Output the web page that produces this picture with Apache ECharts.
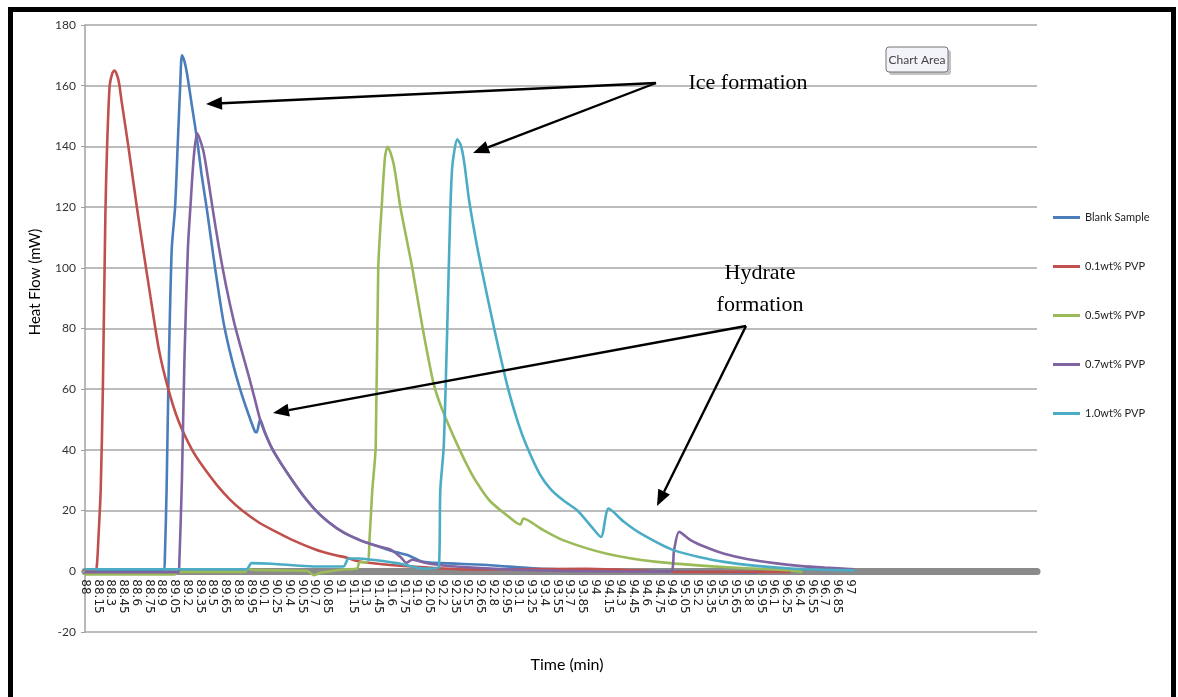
<!DOCTYPE html>
<html>
<head>
<meta charset="utf-8">
<script src="https://cdn.jsdelivr.net/npm/echarts@6.0.0/dist/echarts.min.js"></script>
<style>
  html, body { margin: 0; padding: 0; background: #fff; }
  #main { width: 1178px; height: 697px; }
</style>
</head>
<body>
<div id="main"></div>
<script>
// time axis (min): Excel category axis, one row per 0.05 min, labels every 0.15 up to 97
var timeStart = 88;
var timeStep = 0.05;
var lastLabel = 97;
var axisEnd = 99.2;
var yMin = -20, yMax = 180, yStep = 20;

var seriesNames = ['Blank Sample', '0.1wt% PVP', '0.5wt% PVP', '0.7wt% PVP', '1.0wt% PVP'];
var seriesColors = ['#4a7ebb', '#c0504d', '#9bbb59', '#8064a2', '#4bacc6'];

// Blank Sample
var blankT = [88, 88.93, 88.94, 88.96, 88.98, 89.02, 89.06, 89.09, 89.12, 89.14,
  89.17, 89.2, 89.26, 89.32, 89.37, 89.43, 89.48, 89.53, 89.63, 89.73,
  89.83, 89.92, 90.0, 90.02, 90.06, 90.12, 90.2, 90.3, 90.43, 90.56,
  90.7, 90.86, 91.04, 91.24, 91.44, 91.6, 91.8, 91.98, 92.4, 92.77,
  93.32, 94.0, 95.0, 95.91];
var blankV = [0.5, 0.5, 5, 27, 60, 106, 120, 140, 160, 170,
  168, 164, 153, 142, 131, 120, 110, 100, 82, 69.5,
  59.5, 52, 46, 45.8, 50, 45.5, 40.5, 35.8, 30.3, 25.2,
  20.5, 16.3, 12.8, 10.2, 8.3, 6.8, 5.3, 3.1, 2.5, 2,
  0.9, 0.4, 0, -0.5];

// 0.1wt% PVP
var pvp01T = [88, 88.12, 88.14, 88.16, 88.185, 88.21, 88.24, 88.26, 88.29, 88.32,
  88.345, 88.37, 88.4, 88.43, 88.51, 88.61, 88.69, 88.77, 88.87, 88.98,
  89.1, 89.26, 89.4, 89.55, 89.7, 89.85, 90.05, 90.25, 90.45, 90.71,
  90.9, 91.09, 91.2, 91.5, 92.0, 92.5, 93.0, 93.9, 94.5, 95.0,
  96.3];
var pvp01V = [0.3, 0.3, 2, 12, 27, 60, 118, 140, 160, 164,
  165, 164, 161, 155, 140, 120, 105, 90.5, 73, 60,
  49.5, 40, 34, 28.5, 23.8, 20, 16, 13, 10.2, 7.2,
  5.6, 4.4, 3.4, 2.3, 1.3, 0.6, 0.7, 0.8, 0.3, -0.2,
  -0.2];

// 0.5wt% PVP
var pvp05T = [88, 89.06, 89.08, 89.88, 89.92, 89.96, 90.3, 90.62, 90.69, 90.77,
  91.04, 91.2, 91.23, 91.32, 91.35, 91.38, 91.42, 91.45, 91.49, 91.53,
  91.56, 91.63, 91.71, 91.85, 91.97, 92.1, 92.2, 92.4, 92.55, 92.65,
  92.77, 92.97, 93.12, 93.16, 93.36, 93.63, 94.14, 94.73, 95.52, 96.3,
  96.44];
var pvp05V = [-1, -1, -0.2, -0.2, 0.9, 0.5, 0.3, 0.1, -1.3, -0.5,
  0.6, 0.9, 3, 3, 12, 26.7, 41, 100, 120, 136.6,
  139.9, 134.4, 120, 100, 80.5, 62, 53.5, 40.5, 32, 27.5,
  23, 18.3, 15.4, 17.4, 14.1, 10.2, 5.8, 3.1, 1.4, 0.3,
  -0.2];

// 0.7wt% PVP
var pvp07T = [88, 89.1, 89.11, 89.14, 89.17, 89.21, 89.24, 89.28, 89.32, 89.39,
  89.45, 89.51, 89.58, 89.66, 89.75, 89.83, 89.92, 90.0, 90.06, 90.12,
  90.2, 90.3, 90.43, 90.56, 90.7, 90.86, 91.04, 91.24, 91.44, 91.59,
  91.72, 91.78, 91.85, 92.0, 92.18, 92.77, 93.36, 93.95, 94.89, 94.93,
  94.99, 95.13, 95.3, 95.52, 95.8, 96.11, 96.4, 96.7, 97.05];
var pvp07V = [-0.3, -0.3, 3, 30, 70, 106, 120, 136.6, 144.3, 138.8,
  129, 118, 106, 94, 82.5, 74, 65, 56.5, 50, 45.5,
  40.5, 35.8, 30.3, 25.2, 20.5, 16.3, 12.8, 10.2, 8.3, 7.2,
  4.5, 2.8, 3.8, 2.8, 2, 0.9, 0.3, 0, -0.1, 6.9,
  13, 10.2, 8, 5.8, 4, 2.7, 1.8, 1.2, 0.7];

// 1.0wt% PVP
var pvp10T = [88, 89.9, 89.96, 90.2, 90.69, 91.04, 91.1, 91.2, 91.71, 91.98,
  92.16, 92.18, 92.22, 92.26, 92.29, 92.32, 92.38, 92.42, 92.46, 92.52,
  92.6, 92.67, 92.81, 92.97, 93.1, 93.2, 93.35, 93.48, 93.63, 93.79,
  93.95, 94.07, 94.16, 94.34, 94.54, 94.93, 95.52, 96.3, 97.05];
var pvp10V = [0.7, 0.7, 2.7, 2.5, 1.6, 1.6, 4.2, 4.2, 2.5, 0.9,
  1.2, 26.7, 41, 78.4, 111, 133, 142.3, 140.5, 135, 122,
  109, 99, 80.5, 61, 48.5, 41, 32, 27, 23.3, 20.1,
  15, 11.3, 20.7, 16.3, 12.4, 6.9, 3.1, 0.9, 0.3];

var seriesTimes = [blankT, pvp01T, pvp05T, pvp07T, pvp10T];
var seriesValues = [blankV, pvp01V, pvp05V, pvp07V, pvp10V];

// category labels along the time axis
var timeCats = [];
var nCats = Math.round((axisEnd - timeStart) / timeStep) + 1;
for (var i = 0; i < nCats; i++) {
  var t = +(timeStart + i * timeStep).toFixed(2);
  timeCats.push(t <= lastLabel + 1e-9 ? String(t) : '');
}

function pairs(ts, vs) {
  var out = [];
  for (var k = 0; k < ts.length; k++) out.push([ts[k], vs[k]]);
  return out;
}

var series = [];
for (var s = 0; s < seriesNames.length; s++) {
  series.push({
    name: seriesNames[s],
    type: 'line',
    xAxisIndex: 1,
    data: pairs(seriesTimes[s], seriesValues[s]),
    showSymbol: false,
    symbol: 'none',
    smooth: 0.25,
    lineStyle: { width: 2.6, color: seriesColors[s] },
    itemStyle: { color: seriesColors[s] }
  });
}

function arrow(x1, y1, x2, y2) {
  var a = Math.atan2(y2 - y1, x2 - x1);
  var len = 16, half = 6.5;
  var c = Math.cos(a), sn = Math.sin(a);
  var bx = x2 - len * c, by = y2 - len * sn;
  return [
    { type: 'line', shape: { x1: x1, y1: y1, x2: bx, y2: by }, style: { stroke: '#000', lineWidth: 2.4 }, z: 100 },
    { type: 'polygon', shape: { points: [[x2, y2], [bx + half * sn, by - half * c], [bx - half * sn, by + half * c]] }, style: { fill: '#000' }, z: 100 }
  ];
}

var graphics = [
  { type: 'rect', shape: { x: 10.5, y: 9.5, width: 1163, height: 700 }, style: { fill: 'none', stroke: '#000', lineWidth: 5 }, z: 100 },
  { type: 'text', x: 35, y: 282, rotation: Math.PI / 2, style: { text: 'Heat Flow (mW)', font: '15px Lato', fill: '#000', textAlign: 'center', textVerticalAlign: 'middle' } },
  { type: 'text', x: 567, y: 665, style: { text: 'Time (min)', font: '16px Lato', fill: '#000', textAlign: 'center', textVerticalAlign: 'middle' } },
  { type: 'rect', shape: { x: 889, y: 50, width: 62, height: 25, r: 3 }, style: { fill: '#888', opacity: 0.5 }, z: 90 },
  { type: 'rect', shape: { x: 886, y: 47, width: 62, height: 25, r: 3 }, style: { fill: '#f3f3fa', stroke: '#767676', lineWidth: 1 }, z: 91 },
  { type: 'text', x: 917, y: 60, style: { text: 'Chart Area', font: '12px Lato', fill: '#444', textAlign: 'center', textVerticalAlign: 'middle' }, z: 92 },
  { type: 'text', x: 748, y: 83, style: { text: 'Ice formation', font: '22px "Liberation Serif"', fill: '#000', textAlign: 'center', textVerticalAlign: 'middle' }, z: 100 },
  { type: 'text', x: 760, y: 273, style: { text: 'Hydrate', font: '22px "Liberation Serif"', fill: '#000', textAlign: 'center', textVerticalAlign: 'middle' }, z: 100 },
  { type: 'text', x: 760, y: 305, style: { text: 'formation', font: '22px "Liberation Serif"', fill: '#000', textAlign: 'center', textVerticalAlign: 'middle' }, z: 100 }
];
graphics = graphics
  .concat(arrow(656, 83, 206, 104))
  .concat(arrow(656, 83, 473, 153))
  .concat(arrow(746, 326, 273, 413))
  .concat(arrow(746, 326, 657, 506));

var gridTop = 25, gridBottom = 65, chartH = 697;
var plotH = chartH - gridTop - gridBottom;
// lift the category axis (line + labels) up to the zero level, like Excel
var zeroOffset = -plotH * (0 - yMin) / (yMax - yMin);

var chart = echarts.init(document.getElementById('main'));
var option = {
  animation: false,
  backgroundColor: '#fff',
  grid: { left: 85, right: 141, top: gridTop, bottom: gridBottom, containLabel: false },
  legend: {
    data: seriesNames,
    orient: 'vertical',
    left: 1053,
    top: 212,
    itemWidth: 27,
    itemHeight: 3,
    itemGap: 38,
    icon: 'rect',
    padding: 0,
    textStyle: { fontSize: 11, color: '#222', fontFamily: 'Lato' }
  },
  xAxis: [
    {
      type: 'category',
      data: timeCats,
      boundaryGap: false,
      offset: zeroOffset,
      axisLine: { onZero: false, lineStyle: { color: '#8a8a8a', width: 7 } },
      axisTick: { show: false },
      axisLabel: { interval: 2, rotate: -90, fontSize: 12, color: '#222', fontFamily: 'DejaVu Sans', margin: 8 },
      splitLine: { show: false }
    },
    {
      type: 'value',
      min: timeStart,
      max: axisEnd,
      show: false
    }
  ],
  yAxis: {
    type: 'value',
    min: yMin,
    max: yMax,
    interval: yStep,
    axisLine: { show: true, lineStyle: { color: '#a0a0a0', width: 1.5 } },
    axisTick: { show: true, length: 4, lineStyle: { color: '#a0a0a0' } },
    axisLabel: { fontSize: 12, color: '#333', fontFamily: 'Lato', margin: 9 },
    splitLine: { lineStyle: { color: '#a6a6a6', width: 1.6 } }
  },
  graphic: graphics,
  series: series
};
chart.setOption(option);
</script>
</body>
</html>
